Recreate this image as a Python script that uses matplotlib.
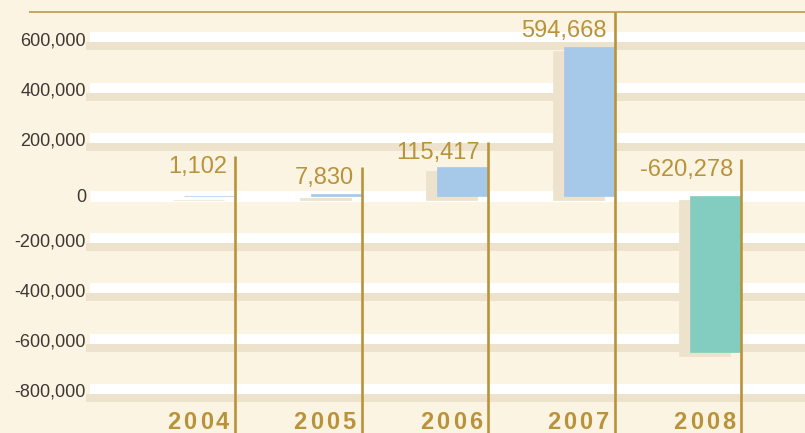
import matplotlib
matplotlib.use('Agg')
import matplotlib.pyplot as plt
from matplotlib.transforms import blended_transform_factory, offset_copy

years = ['2004', '2005', '2006', '2007', '2008']
values = [1102, 7830, 115417, 594668, -620278]
value_labels = ['1,102', '7,830', '115,417', '594,668', '-620,278']
yticks = [600000, 400000, 200000, 0, -200000, -400000, -600000, -800000]
ytick_labels = ['600,000', '400,000', '200,000', '0', '-200,000', '-400,000', '-600,000', '-800,000']

BG = '#fcf4e3'
BAND = '#ede2cb'
GOLD = '#b8933a'
BLUE = '#a6c8e9'
TEAL = '#82cdc0'
INK = '#3d3833'

W, H = 805, 433
fig = plt.figure(figsize=(W / 100, H / 100), dpi=100)
fig.patch.set_facecolor(BG)
ax = fig.add_axes([0, 0, 1, 1])
ax.set_xlim(-1.655, 4.704)
ax.set_ylim(-944000, 781000)
ax.axis('off')

ymin, ymax = ax.get_ylim()
ppu = H / (ymax - ymin)          # pixels per value unit
row = blended_transform_factory(ax.transAxes, ax.transData)

# top rule
rule_y = ymax - 12 / ppu
ax.plot([29 / W, 1], [rule_y, rule_y], transform=row, color=GOLD, lw=1.1,
        solid_capstyle='butt')

# grid bands: white strip over a beige strip
for v, lbl in zip(yticks, ytick_labels):
    if v == 0:
        ax.plot([90 / W, 1], [0, 0], transform=row, color='white', lw=11 * 0.72,
                solid_capstyle='butt', zorder=1)
        dy = -6
    else:
        ax.plot([86 / W, 1], [v, v], transform=offset_copy(row, y=-1, units='dots'),
                color=BAND, lw=8 * 0.72, solid_capstyle='butt', zorder=1)
        ax.plot([90 / W, 1], [v, v], transform=offset_copy(row, y=8, units='dots'),
                color='white', lw=10 * 0.72, solid_capstyle='butt', zorder=1)
        dy = 0
    ax.annotate(lbl, xy=(86 / W, v), xycoords=row, xytext=(0, dy),
                textcoords='offset pixels', ha='right', va='baseline',
                fontsize=13, family='Liberation Sans', color=INK)

idx = list(range(len(years)))
width = 0.403
colors = [BLUE if v >= 0 else TEAL for v in values]

# shadows then bars
ax.bar(idx, values, width, color=BAND, edgecolor=BAND, linewidth=0.5, zorder=2,
       transform=offset_copy(ax.transData, x=-11, y=-4, units='dots'))
ax.bar(idx, values, width, color=colors, edgecolor=colors, linewidth=0.5, zorder=3)

# value tags with gold markers
label_gap = [23, 10, 8, 10, 20]
for i, (v, lbl) in enumerate(zip(values, value_labels)):
    right = i + width / 2
    top = max(v, 0)
    ax.annotate(lbl, xy=(right, top), xytext=(-8, label_gap[i]),
                textcoords='offset pixels', ha='right', va='baseline',
                fontsize=17, family='Liberation Sans', color=GOLD, zorder=4)
    line_top = top + (label_gap[i] + 17) / ppu
    if line_top > rule_y - 12 / ppu:
        line_top = rule_y
    ax.plot([right, right], [ymin, line_top], color=GOLD, lw=1.9,
            solid_capstyle='butt', zorder=4)

    # letter-spaced year label
    step = 16.3
    for k, ch in enumerate(reversed(years[i])):
        ax.annotate(ch, xy=(right, ymin), xytext=(-12.5 - k * step, 4),
                    textcoords='offset pixels', ha='center', va='baseline',
                    fontsize=17, family='Liberation Sans', weight='bold',
                    color=GOLD, zorder=4)

fig.savefig('out.png', dpi=100, facecolor=BG)
